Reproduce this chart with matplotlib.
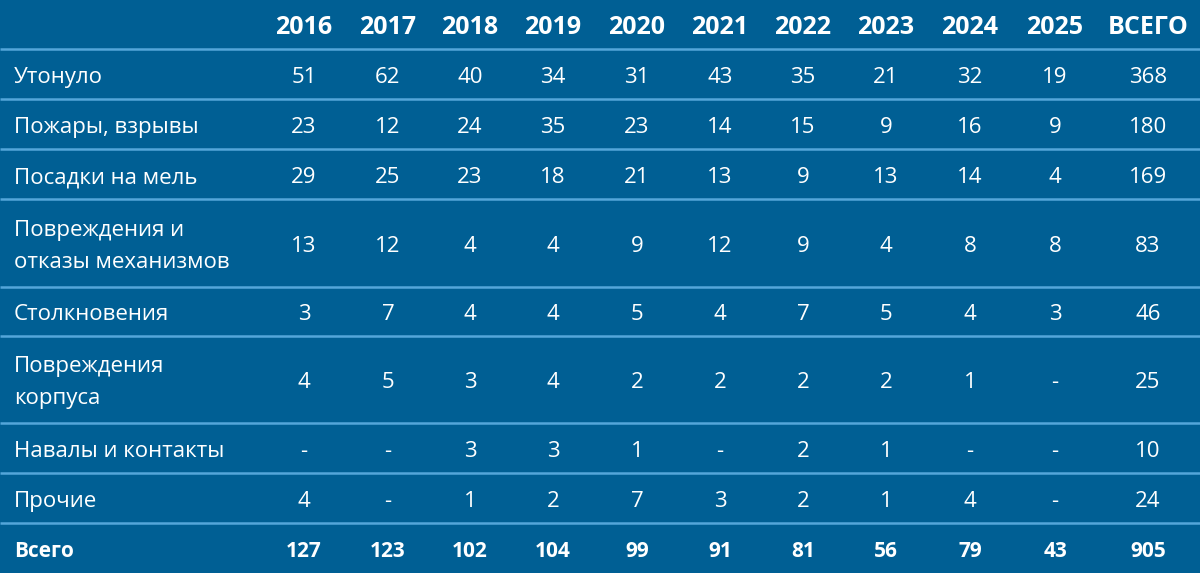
import matplotlib.pyplot as plt

plt.rcParams['font.family'] = ['Open Sans', 'DejaVu Sans']

years = ['2016', '2017', '2018', '2019', '2020', '2021', '2022', '2023', '2024', '2025', 'ВСЕГО']
categories = ['Утонуло', 'Пожары, взрывы', 'Посадки на мель', 'Повреждения и\nотказы механизмов',
              'Столкновения', 'Повреждения\nкорпуса', 'Навалы и контакты', 'Прочие']
values = [
    ['51', '62', '40', '34', '31', '43', '35', '21', '32', '19', '368'],
    ['23', '12', '24', '35', '23', '14', '15', '9', '16', '9', '180'],
    ['29', '25', '23', '18', '21', '13', '9', '13', '14', '4', '169'],
    ['13', '12', '4', '4', '9', '12', '9', '4', '8', '8', '83'],
    ['3', '7', '4', '4', '5', '4', '7', '5', '4', '3', '46'],
    ['4', '5', '3', '4', '2', '2', '2', '2', '1', '-', '25'],
    ['-', '-', '3', '3', '1', '-', '2', '1', '-', '-', '10'],
    ['4', '-', '1', '2', '7', '3', '2', '1', '4', '-', '24'],
]
total_label = 'Всего'
totals = ['127', '123', '102', '104', '99', '91', '81', '56', '79', '43', '905']

BG = '#005f94'
LINE = '#54a6da'

fig = plt.figure(figsize=(12, 5.73), dpi=100, facecolor=BG)
ax = fig.add_axes([0, 0, 1, 1])
ax.set_xlim(0, 1200)
ax.set_ylim(573, 0)
ax.axis('off')
ax.set_facecolor(BG)

col_x = [304, 388, 470, 553, 637, 720, 803, 886, 970, 1055, 1148]
row_y = [75, 125, 175, 244, 312, 380, 449, 499]
header_y = 25
total_y = 549
lines_y = [49, 99, 149, 199, 287, 336, 423, 473, 523]
half_cap = 8   # baseline offset from visual centre of a row
line_gap = 16  # half distance between the two lines of a wrapped label

for y in lines_y:
    ax.plot([0, 1200], [y, y], color=LINE, lw=1.8, solid_capstyle='butt')

for x, yr in zip(col_x, years):
    ax.text(x, header_y + 9, yr, color='white', fontsize=18, fontweight='bold',
            ha='center', va='baseline')

for y, cat, row in zip(row_y, categories, values):
    parts = cat.split('\n')
    if len(parts) == 1:
        ax.text(14, y + half_cap, cat, color='white', fontsize=16, ha='left', va='baseline')
    else:
        ax.text(14, y - line_gap + half_cap, parts[0], color='white', fontsize=16,
                ha='left', va='baseline')
        ax.text(14, y + line_gap + half_cap, parts[1], color='white', fontsize=16,
                ha='left', va='baseline')
    for x, v in zip(col_x, row):
        ax.text(x, y + half_cap, v, color='white', fontsize=16, ha='center', va='baseline')

ax.text(14, total_y + half_cap, total_label, color='white', fontsize=15, fontweight='bold',
        ha='left', va='baseline')
for x, v in zip(col_x, totals):
    ax.text(x, total_y + half_cap, v, color='white', fontsize=15, fontweight='bold',
            ha='center', va='baseline')

fig.savefig('out.png', dpi=100, facecolor=BG)
